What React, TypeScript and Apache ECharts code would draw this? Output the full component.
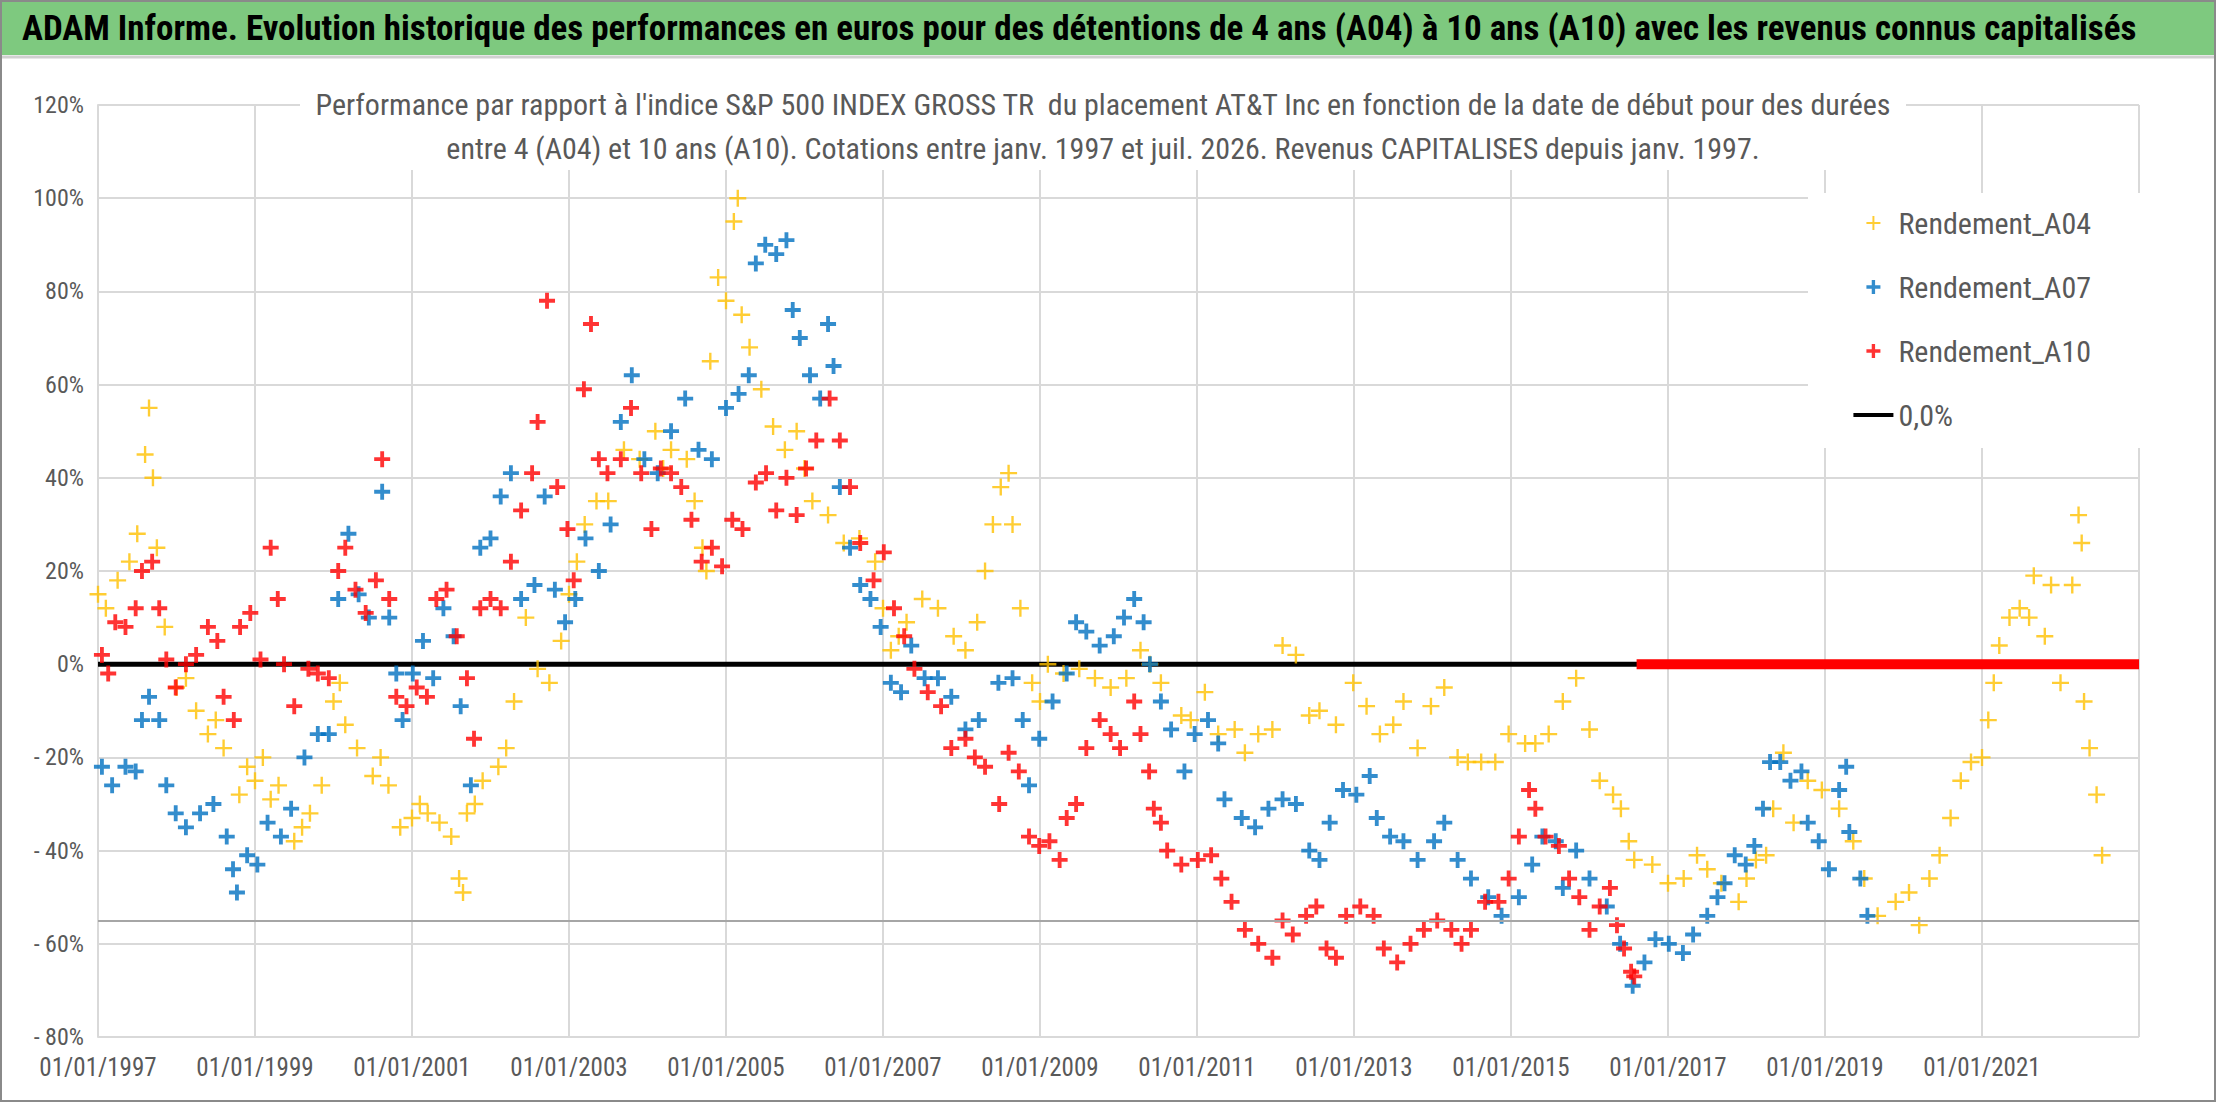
import { useEffect, useRef } from 'react'
import * as echarts from 'echarts'

// [année, rendement %]
const a04: [number, number][] = [
  [1997.0, 15], [1997.1, 12], [1997.25, 18], [1997.4, 22], [1997.5, 28], [1997.6, 45], [1997.65, 55], [1997.7, 40], [1997.75, 25], [1997.85, 8],
  [1998.0, -5], [1998.12, -3], [1998.25, -10], [1998.4, -15], [1998.5, -12], [1998.6, -18], [1998.8, -28], [1998.9, -22], [1999.0, -25], [1999.1, -20],
  [1999.2, -29], [1999.3, -26], [1999.5, -38], [1999.6, -35], [1999.7, -32], [1999.85, -26], [2000.0, -8], [2000.08, -4], [2000.15, -13], [2000.3, -18],
  [2000.5, -24], [2000.6, -20], [2000.7, -26], [2000.85, -35], [2001.0, -33], [2001.1, -30], [2001.2, -32], [2001.35, -34], [2001.5, -37], [2001.6, -46],
  [2001.65, -49], [2001.7, -32], [2001.8, -30], [2001.9, -25], [2002.1, -22], [2002.2, -18], [2002.3, -8], [2002.45, 10], [2002.6, -1], [2002.75, -4],
  [2002.9, 5], [2003.0, 15], [2003.1, 22], [2003.2, 30], [2003.35, 35], [2003.5, 35], [2003.7, 46], [2003.9, 44], [2004.1, 50], [2004.2, 42],
  [2004.3, 46], [2004.5, 44], [2004.6, 35], [2004.7, 25], [2004.75, 20], [2004.8, 65], [2004.9, 83], [2005.0, 78], [2005.1, 95], [2005.15, 100],
  [2005.2, 75], [2005.3, 68], [2005.45, 59], [2005.6, 51], [2005.75, 46], [2005.9, 50], [2006.0, 42], [2006.1, 35], [2006.3, 32], [2006.5, 26],
  [2006.7, 27], [2006.9, 22], [2007.0, 12], [2007.1, 3], [2007.2, 6], [2007.3, 9], [2007.5, 14], [2007.7, 12], [2007.9, 6], [2008.05, 3],
  [2008.2, 9], [2008.3, 20], [2008.4, 30], [2008.5, 38], [2008.6, 41], [2008.65, 30], [2008.75, 12], [2008.9, -4], [2009.0, -8], [2009.1, 0],
  [2009.3, -2], [2009.5, -1], [2009.7, -3], [2009.9, -5], [2010.1, -3], [2010.28, 3], [2010.4, 0], [2010.54, -4], [2010.8, -11], [2010.92, -12],
  [2011.1, -6], [2011.27, -15], [2011.48, -14], [2011.61, -19], [2011.78, -15], [2011.96, -14], [2012.09, 4], [2012.26, 2], [2012.43, -11], [2012.56, -10],
  [2012.77, -13], [2012.99, -4], [2013.16, -9], [2013.33, -15], [2013.5, -13], [2013.63, -8], [2013.81, -18], [2013.98, -9], [2014.15, -5], [2014.32, -20],
  [2014.45, -21], [2014.62, -21], [2014.8, -21], [2014.97, -15], [2015.18, -17], [2015.31, -17], [2015.48, -15], [2015.66, -8], [2015.83, -3], [2016.0, -14],
  [2016.13, -25], [2016.3, -28], [2016.4, -31], [2016.5, -38], [2016.57, -42], [2016.8, -43], [2017.0, -47], [2017.2, -46], [2017.37, -41], [2017.5, -44],
  [2017.68, -47], [2017.9, -51], [2018.0, -46], [2018.12, -42], [2018.25, -41], [2018.34, -31], [2018.47, -19], [2018.6, -34], [2018.78, -25], [2018.96, -27],
  [2019.18, -31], [2019.36, -38], [2019.5, -46], [2019.67, -54], [2019.9, -51], [2020.07, -49], [2020.2, -56], [2020.33, -46], [2020.46, -41], [2020.6, -33],
  [2020.73, -25], [2020.86, -21], [2021.0, -20], [2021.08, -12], [2021.15, -4], [2021.22, 4], [2021.35, 10], [2021.48, 12], [2021.6, 10], [2021.66, 19],
  [2021.8, 6], [2021.88, 17], [2022.0, -4], [2022.15, 17], [2022.23, 32], [2022.27, 26], [2022.3, -8], [2022.37, -18], [2022.46, -28], [2022.53, -41],
]

const a07: [number, number][] = [
  [1997.05, -22], [1997.18, -26], [1997.35, -22], [1997.48, -23], [1997.56, -12], [1997.65, -7], [1997.78, -12], [1997.87, -26], [1997.99, -32], [1998.12, -35],
  [1998.3, -32], [1998.47, -30], [1998.64, -37], [1998.72, -44], [1998.77, -49], [1998.9, -41], [1999.03, -43], [1999.16, -34], [1999.33, -37], [1999.46, -31],
  [1999.63, -20], [1999.8, -15], [1999.94, -15], [2000.06, 14], [2000.19, 28], [2000.32, 15], [2000.45, 10], [2000.62, 37], [2000.71, 10], [2000.8, -2],
  [2000.88, -12], [2001.01, -2], [2001.14, 5], [2001.27, -3], [2001.4, 12], [2001.53, 6], [2001.62, -9], [2001.75, -26], [2001.87, 25], [2002.0, 27],
  [2002.13, 36], [2002.26, 41], [2002.39, 14], [2002.56, 17], [2002.69, 36], [2002.82, 16], [2002.95, 9], [2003.08, 14], [2003.21, 27], [2003.38, 20],
  [2003.53, 30], [2003.66, 52], [2003.8, 62], [2003.96, 44], [2004.13, 41], [2004.3, 50], [2004.48, 57], [2004.65, 46], [2004.82, 44], [2005.0, 55],
  [2005.16, 58], [2005.29, 62], [2005.38, 86], [2005.5, 90], [2005.64, 88], [2005.77, 91], [2005.85, 76], [2005.94, 70], [2006.07, 62], [2006.2, 57],
  [2006.3, 73], [2006.37, 64], [2006.45, 38], [2006.58, 25], [2006.71, 17], [2006.84, 14], [2006.97, 8], [2007.1, -4], [2007.23, -6], [2007.36, 4],
  [2007.53, -3], [2007.7, -3], [2007.87, -7], [2008.05, -14], [2008.22, -12], [2008.47, -4], [2008.65, -3], [2008.78, -12], [2008.86, -26], [2008.99, -16],
  [2009.16, -8], [2009.34, -2], [2009.46, 9], [2009.59, 7], [2009.76, 4], [2009.94, 6], [2010.07, 10], [2010.2, 14], [2010.32, 9], [2010.4, 0],
  [2010.54, -8], [2010.67, -14], [2010.84, -23], [2010.97, -15], [2011.14, -12], [2011.27, -17], [2011.35, -29], [2011.57, -33], [2011.74, -35], [2011.91, -31],
  [2012.09, -29], [2012.26, -30], [2012.43, -40], [2012.56, -42], [2012.69, -34], [2012.86, -27], [2013.03, -28], [2013.2, -24], [2013.29, -33], [2013.46, -37],
  [2013.63, -38], [2013.81, -42], [2014.02, -38], [2014.15, -34], [2014.32, -42], [2014.49, -46], [2014.71, -50], [2014.88, -54], [2015.1, -50], [2015.27, -43],
  [2015.4, -37], [2015.57, -38], [2015.66, -48], [2015.83, -40], [2016.0, -46], [2016.22, -52], [2016.39, -60], [2016.55, -69], [2016.7, -64], [2016.84, -59],
  [2017.01, -60], [2017.19, -62], [2017.32, -58], [2017.5, -54], [2017.63, -50], [2017.72, -47], [2017.85, -41], [2017.99, -43], [2018.1, -39], [2018.21, -31],
  [2018.3, -21], [2018.43, -21], [2018.56, -25], [2018.7, -23], [2018.78, -34], [2018.92, -38], [2019.05, -44], [2019.18, -27], [2019.27, -22], [2019.31, -36],
  [2019.45, -46], [2019.54, -54],
]

const a10: [number, number][] = [
  [1997.05, 2], [1997.13, -2], [1997.22, 9], [1997.35, 8], [1997.48, 12], [1997.56, 20], [1997.69, 22], [1997.78, 12], [1997.87, 1], [1997.99, -5],
  [1998.12, 0], [1998.25, 2], [1998.4, 8], [1998.52, 5], [1998.6, -7], [1998.73, -12], [1998.81, 8], [1998.94, 11], [1999.07, 1], [1999.2, 25],
  [1999.29, 14], [1999.37, 0], [1999.5, -9], [1999.68, -1], [1999.8, -2], [1999.94, -3], [2000.06, 20], [2000.15, 25], [2000.28, 16], [2000.41, 11],
  [2000.54, 18], [2000.62, 44], [2000.71, 14], [2000.8, -7], [2000.93, -9], [2001.06, -5], [2001.19, -7], [2001.31, 14], [2001.44, 16], [2001.57, 6],
  [2001.7, -3], [2001.79, -16], [2001.87, 12], [2002.0, 14], [2002.13, 12], [2002.26, 22], [2002.39, 33], [2002.53, 41], [2002.6, 52], [2002.72, 78],
  [2002.85, 38], [2002.98, 29], [2003.06, 18], [2003.19, 59], [2003.28, 73], [2003.38, 44], [2003.49, 41], [2003.66, 44], [2003.79, 55], [2003.92, 41],
  [2004.05, 29], [2004.17, 42], [2004.3, 41], [2004.43, 38], [2004.56, 31], [2004.69, 22], [2004.82, 25], [2004.95, 21], [2005.08, 31], [2005.21, 29],
  [2005.38, 39], [2005.51, 41], [2005.64, 33], [2005.77, 40], [2005.9, 32], [2006.02, 42], [2006.15, 48], [2006.32, 57], [2006.45, 48], [2006.58, 38],
  [2006.71, 26], [2006.88, 18], [2007.01, 24], [2007.14, 12], [2007.27, 6], [2007.4, -1], [2007.57, -6], [2007.74, -9], [2007.87, -18], [2008.05, -16],
  [2008.17, -20], [2008.3, -22], [2008.48, -30], [2008.6, -19], [2008.73, -23], [2008.86, -37], [2008.99, -39], [2009.12, -38], [2009.25, -42], [2009.34, -33],
  [2009.46, -30], [2009.59, -18], [2009.76, -12], [2009.9, -15], [2010.02, -18], [2010.2, -8], [2010.28, -15], [2010.39, -23], [2010.45, -31], [2010.54, -34],
  [2010.62, -40], [2010.8, -43], [2011.01, -42], [2011.18, -41], [2011.31, -46], [2011.44, -51], [2011.61, -57], [2011.78, -60], [2011.96, -63], [2012.09, -55],
  [2012.22, -58], [2012.39, -54], [2012.52, -52], [2012.65, -61], [2012.77, -63], [2012.9, -54], [2013.08, -52], [2013.25, -54], [2013.38, -61], [2013.55, -64],
  [2013.72, -60], [2013.89, -57], [2014.06, -55], [2014.24, -57], [2014.37, -60], [2014.49, -57], [2014.67, -51], [2014.84, -51], [2014.97, -46], [2015.1, -37],
  [2015.23, -27], [2015.31, -31], [2015.44, -37], [2015.61, -39], [2015.74, -46], [2015.87, -50], [2016.0, -57], [2016.13, -52], [2016.26, -48], [2016.35, -56],
  [2016.44, -61], [2016.53, -66], [2016.57, -67],
]

// A10 nul (date de fin de série) et ligne 0,0 %
const a10Zero: [number, number][] = [[2016.6, 0], [2023, 0]]
const zeroLine: [number, number][] = [[1997, 0], [2023, 0]]
const grayLevel = -55

const xTicks = [1997, 1999, 2001, 2003, 2005, 2007, 2009, 2011, 2013, 2015, 2017, 2019, 2021]

const TITLE = 'ADAM Informe. Evolution historique des performances en euros pour des détentions de 4 ans (A04) à 10 ans (A10) avec les revenus connus capitalisés'
const SUB1 = "Performance par rapport à l'indice S&P 500 INDEX GROSS TR  du placement AT&T Inc en fonction de la date de début pour des durées"
const SUB2 = 'entre 4 (A04) et 10 ans (A10). Cotations entre janv. 1997 et juil. 2026. Revenus CAPITALISES depuis janv. 1997.'

const FONT = '"Liberation Sans Narrow", "Arial Narrow", "Roboto Condensed", sans-serif'
const PLUS = 'path://M3.8,0H6.2V3.8H10V6.2H6.2V10H3.8V6.2H0V3.8H3.8Z'
const PLUS_THIN = 'path://M4.3,0H5.7V4.3H10V5.7H5.7V10H4.3V5.7H0V4.3H4.3Z'

export default function App() {
  const ref = useRef<HTMLDivElement>(null)

  useEffect(() => {
    if (!ref.current) return
    const chart = echarts.init(ref.current, undefined, { renderer: 'svg' })
    chart.setOption({
      animation: false,
      backgroundColor: '#fff',
      textStyle: { fontFamily: FONT },
      grid: { left: 98, right: 77, top: 105, bottom: 65 },
      xAxis: {
        type: 'value', min: 1997, max: 2023, interval: 2,
        axisLine: { show: true, lineStyle: { color: '#d9d9d9', width: 2 } },
        axisTick: { show: false },
        splitLine: { lineStyle: { color: '#d9d9d9', width: 2 } },
        axisLabel: {
          color: '#595959', fontSize: 25, fontFamily: FONT, margin: 18,
          formatter: (v: number) => (xTicks.includes(v) ? `01/01/${v}` : ''),
        },
      },
      yAxis: {
        type: 'value', min: -80, max: 120, interval: 20,
        axisLine: { show: true, lineStyle: { color: '#d9d9d9', width: 2 } },
        axisTick: { show: false },
        splitLine: { lineStyle: { color: '#d9d9d9', width: 2 } },
        axisLabel: {
          color: '#595959', fontSize: 24, fontFamily: FONT, margin: 14,
          formatter: (v: number) => (v < 0 ? `- ${-v}%` : `${v}%`),
        },
      },
      legend: {
        orient: 'vertical', right: 120, top: 203, itemGap: 34, itemWidth: 40, itemHeight: 14,
        textStyle: { color: '#595959', fontSize: 30, fontFamily: FONT },
        data: [
          { name: 'Rendement_A04', icon: PLUS_THIN, itemStyle: { color: '#FFC000' } },
          { name: 'Rendement_A07', icon: PLUS },
          { name: 'Rendement_A10', icon: PLUS },
          { name: '0,0%', icon: 'path://M0,0H40V4H0Z' },
        ],
      },
      graphic: [
        { type: 'rect', z: -1, shape: { x: 0, y: 0, width: 2216, height: 55 }, style: { fill: '#7ec97f' } },
        { type: 'line', shape: { x1: 0, y1: 57, x2: 2216, y2: 57 }, style: { stroke: '#d0d0d0', lineWidth: 3 } },
        { type: 'rect', shape: { x: 1, y: 1, width: 2214, height: 1100 }, style: { fill: 'none', stroke: '#8a8a8a', lineWidth: 2 } },
        {
          type: 'text', x: 22, y: 28,
          style: { text: TITLE, font: `bold 35px ${FONT}`, fill: '#000', verticalAlign: 'middle' },
        },
        { type: 'rect', z: 5, shape: { x: 300, y: 78, width: 1606, height: 92 }, style: { fill: '#fff' } },
        {
          type: 'text', z: 6, x: 1103, y: 104,
          style: { text: SUB1, font: `30px ${FONT}`, fill: '#595959', align: 'center', verticalAlign: 'middle' },
        },
        {
          type: 'text', z: 6, x: 1103, y: 148,
          style: { text: SUB2, font: `30px ${FONT}`, fill: '#595959', align: 'center', verticalAlign: 'middle' },
        },
        { type: 'rect', z: 4, shape: { x: 1808, y: 193, width: 333, height: 255 }, style: { fill: '#fff' } },
      ],
      series: [
        {
          name: '0,0%', type: 'line', data: zeroLine, showSymbol: false, z: 1,
          lineStyle: { color: '#000', width: 5 }, itemStyle: { color: '#000' },
          markLine: {
            silent: true, symbol: 'none', label: { show: false },
            lineStyle: { color: '#a6a6a6', width: 2, type: 'solid' },
            data: [{ yAxis: grayLevel }],
          },
        },
        {
          name: 'Rendement_A04', type: 'scatter', data: a04, symbol: PLUS_THIN, symbolSize: 17, z: 2,
          itemStyle: { color: '#FFC000' },
        },
        {
          name: 'Rendement_A07', type: 'scatter', data: a07, symbol: PLUS, symbolSize: 16, z: 3,
          itemStyle: { color: '#0070C0' },
        },
        {
          name: 'Rendement_A10', type: 'scatter', data: a10, symbol: PLUS, symbolSize: 16, z: 4,
          itemStyle: { color: '#FF0000' },
        },
        {
          name: 'A10_nul', type: 'line', data: a10Zero, showSymbol: false, z: 4,
          lineStyle: { color: '#FF0000', width: 10 },
        },
      ],
    })
    return () => chart.dispose()
  }, [])

  return <div ref={ref} style={{ position: 'fixed', left: 0, top: 0, width: 2216, height: 1102 }} />
}
